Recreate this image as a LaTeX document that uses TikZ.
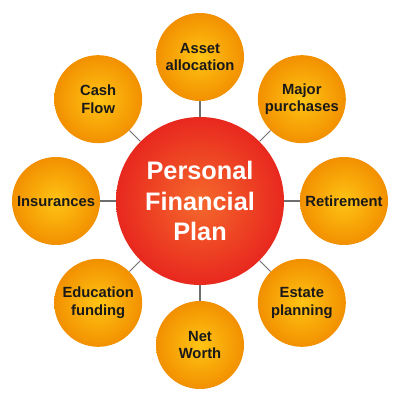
\documentclass[tikz,border=0pt]{standalone}
\usepackage{fontspec}
\setmainfont{Liberation Sans}
\usetikzlibrary{positioning}
\definecolor{PlanRed}{HTML}{E8281E}
\definecolor{PlanOrange}{HTML}{F5692C}
\definecolor{TopicOrange}{HTML}{F29000}
\definecolor{TopicYellow}{HTML}{FFC414}
\definecolor{LinkGray}{HTML}{6E6E6E}

\begin{document}
\begin{tikzpicture}[
    plan/.style={circle, minimum size=3.36cm, inner sep=0pt,
      inner color=PlanOrange, outer color=PlanRed,
      text=white, align=center,
      font=\bfseries\fontsize{14.4}{17.3}\selectfont},
    topic/.style={circle, minimum size=1.76cm, inner sep=0pt,
      inner color=TopicYellow, outer color=TopicOrange,
      text=black!90, align=center,
      font=\bfseries\fontsize{8.4}{10.2}\selectfont},
    link/.style={LinkGray, line width=0.6pt}
  ]
  \useasboundingbox (-4,-3.98) rectangle (4,4.02);

  % Plan
  \node[plan] (plan) at (0,0) {Personal\\Financial\\Plan};

  % Themen rundherum
  \foreach \ang/\name/\txt in {
      90/asset/{Asset\\allocation},
      45/major/{Major\\purchases},
      0/retire/{Retirement},
      -45/estate/{Estate\\planning},
      -90/worth/{Net\\Worth},
      -135/educ/{Education\\funding},
      180/insur/{Insurances},
      135/cash/{Cash\\Flow}} {
    \node[topic] (\name) at (\ang:2.88cm) {\txt};
    \draw[link] (plan) -- (\name);
  }
\end{tikzpicture}
\end{document}
